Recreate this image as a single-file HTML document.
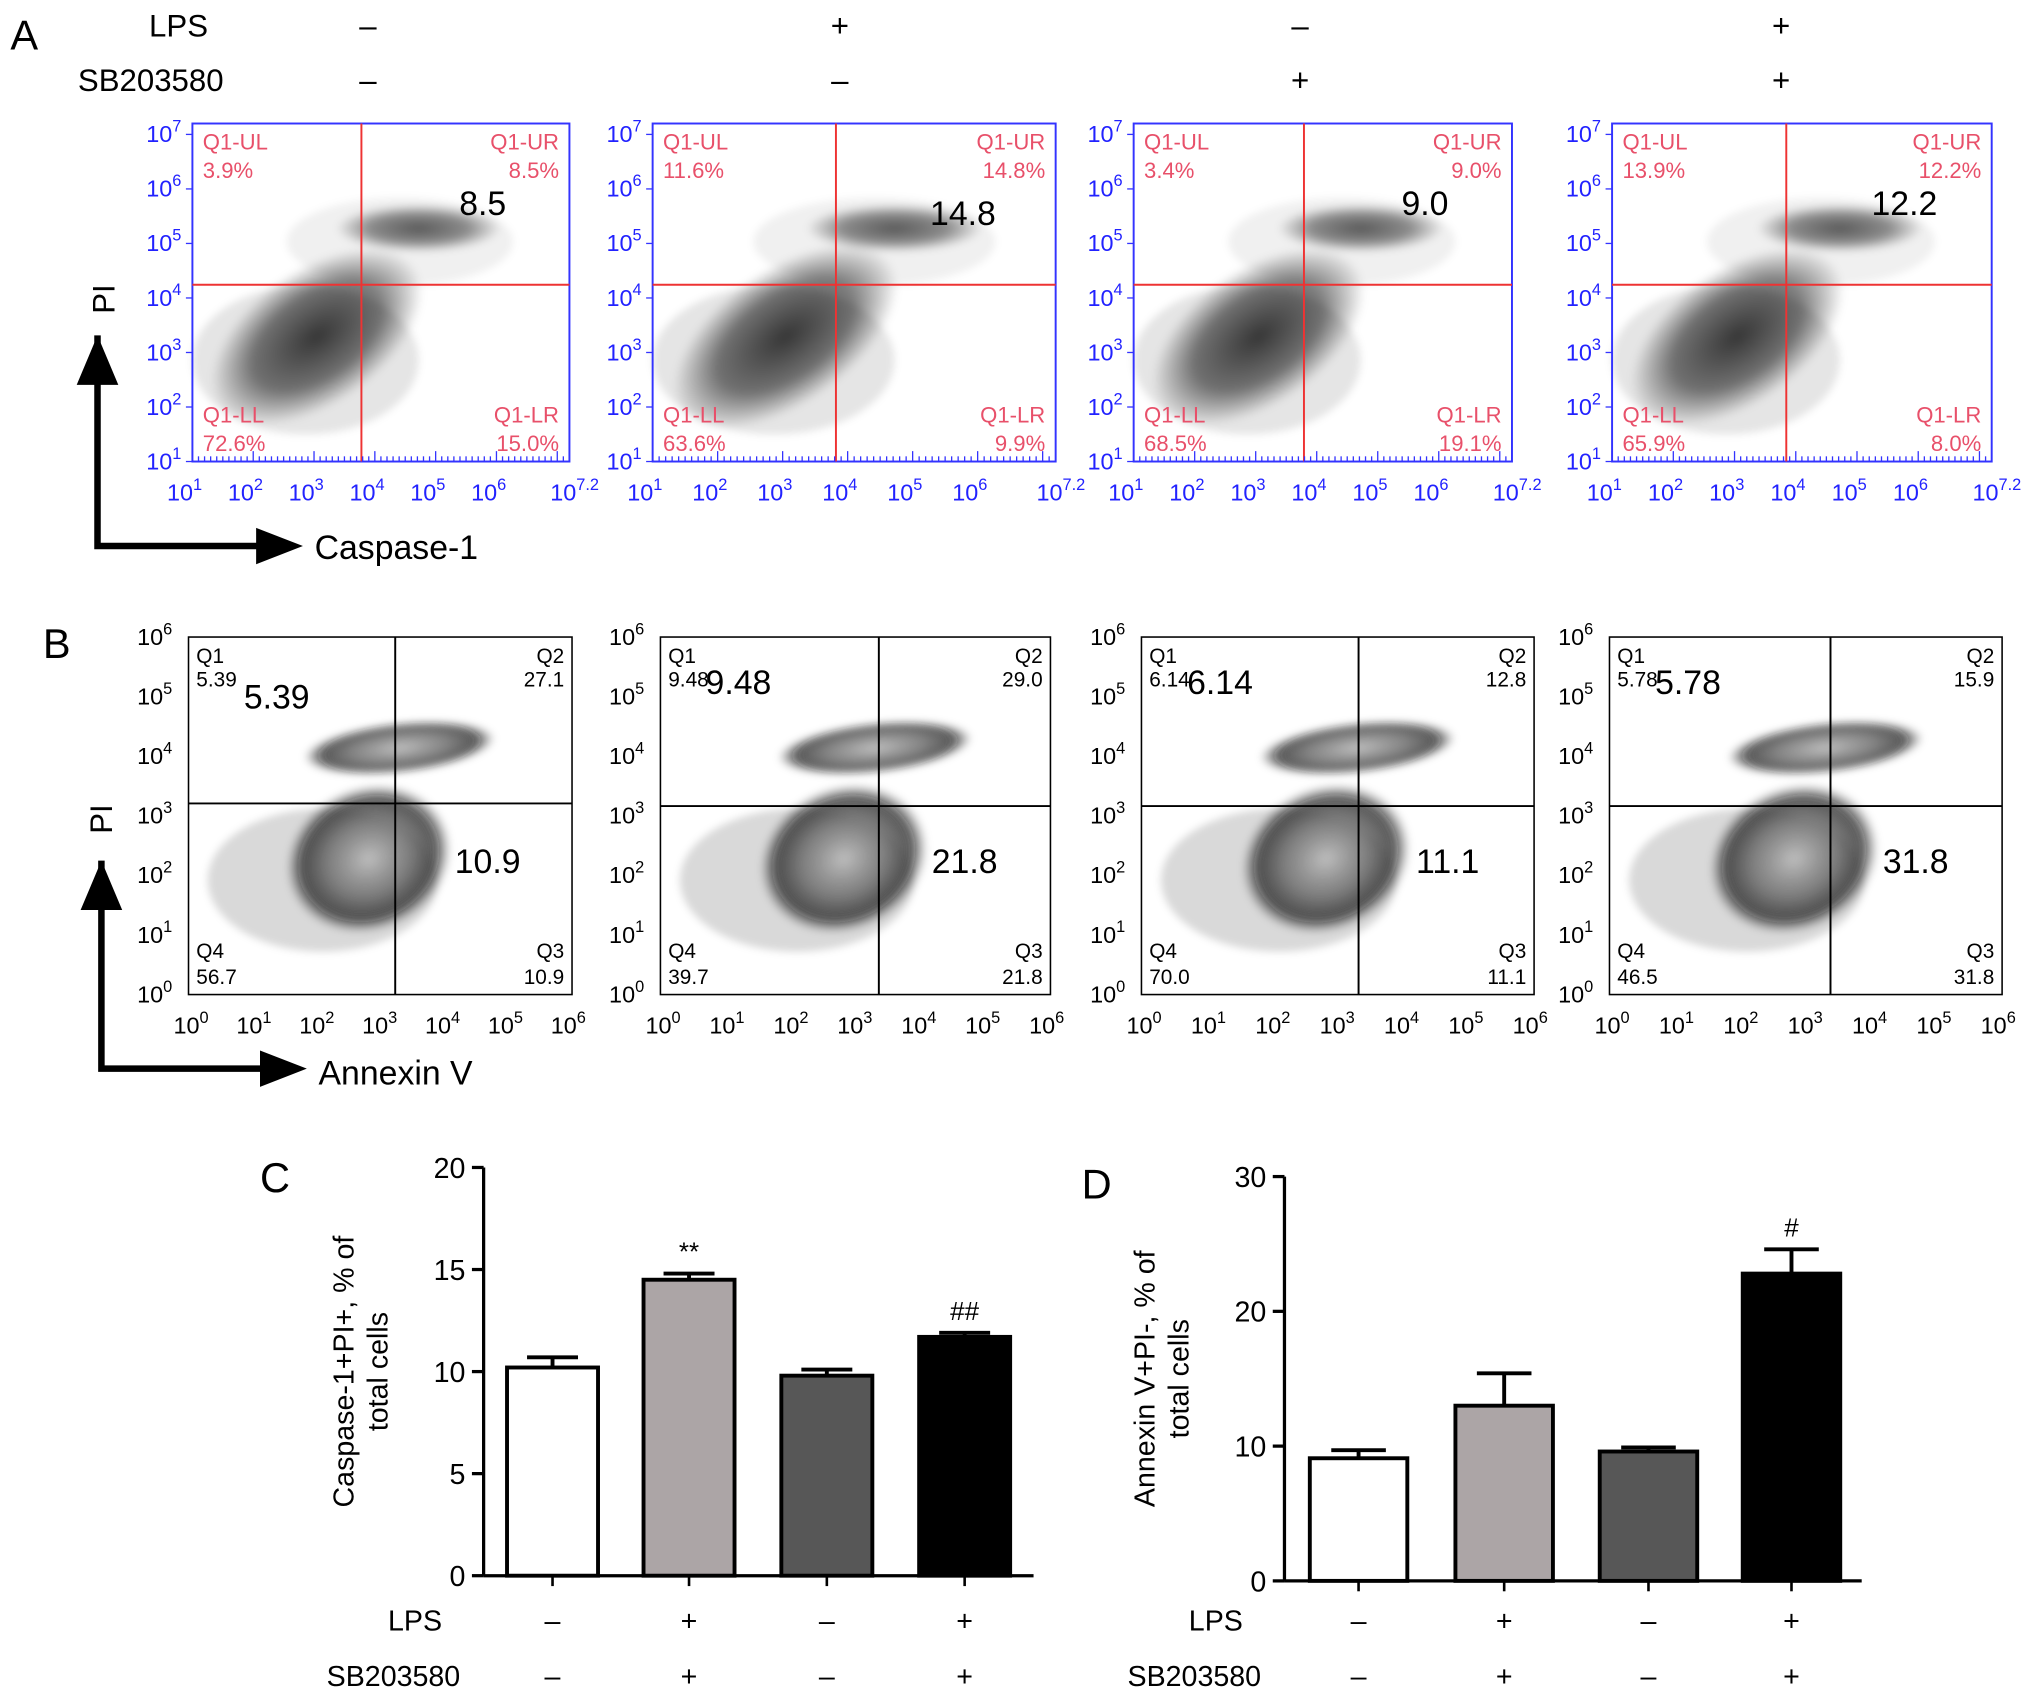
<!DOCTYPE html>
<html><head><meta charset="utf-8">
<style>
html,body{margin:0;padding:0;background:#fff;}
svg{display:block;font-family:"Liberation Sans",sans-serif;}
</style></head>
<body>
<svg id="fig" width="2032" height="1694" viewBox="0 0 1563 1303" preserveAspectRatio="none" xmlns="http://www.w3.org/2000/svg">
<defs>
<radialGradient id="blobK"><stop offset="0" stop-color="#000" stop-opacity="0.9"/><stop offset="0.6" stop-color="#000" stop-opacity="0.6"/><stop offset="1" stop-color="#000" stop-opacity="0"/></radialGradient>
<radialGradient id="blobB"><stop offset="0" stop-color="#bbb" stop-opacity="0.9"/><stop offset="0.5" stop-color="#666" stop-opacity="0.8"/><stop offset="0.8" stop-color="#111" stop-opacity="0.7"/><stop offset="1" stop-color="#000" stop-opacity="0"/></radialGradient>
<filter id="soft"><feGaussianBlur stdDeviation="3"/></filter>
</defs>
<g id="root"></g>
</svg>
<script>
// ---- Bar chart data ----
const groups = ["g1","g2","g3","g4"];
const lpsSigns = ["\u2013","+","\u2013","+"];
const sbSigns = ["\u2013","+","\u2013","+"];
const caspValues = [10.2, 14.5, 9.8, 11.7];
const caspErrors = [0.5, 0.3, 0.3, 0.2];
const caspTicks = [0,5,10,15,20];
const caspMarks = ["","**","","##"];
const annexValues = [9.1, 13.0, 9.6, 22.8];
const annexErrors = [0.6, 2.4, 0.3, 1.8];
const annexTicks = [0,10,20,30];
const annexMarks = ["","","","#"];
// ---- Flow data ----
const aQuad = [["3.9%","8.5%","72.6%","15.0%"],["11.6%","14.8%","63.6%","9.9%"],["3.4%","9.0%","68.5%","19.1%"],["13.9%","12.2%","65.9%","8.0%"]];
const aBig = ["8.5","14.8","9.0","12.2"];
const bQuad = [["5.39","27.1","56.7","10.9"],["9.48","29.0","39.7","21.8"],["6.14","12.8","70.0","11.1"],["5.78","15.9","46.5","31.8"]];
const aLps = ["\u2013","+","\u2013","+"];
const aSb = ["\u2013","\u2013","+","+"];

const NS="http://www.w3.org/2000/svg";
const root=document.getElementById('root');
function mk(tag,attrs,parent,text){const e=document.createElementNS(NS,tag);for(const k in attrs)e.setAttribute(k,attrs[k]);if(text!==undefined)e.textContent=text;(parent||root).appendChild(e);return e;}
function T(x,y,s,size,fill,anchor,parent,name){const e=mk('text',{x:x,y:y,'font-size':size,fill:fill||'#000','text-anchor':anchor||'start'},parent,s);

return e;}
function sup(x,y,base,exp,size,fill,parent){const e=mk('text',{x:x,y:y,'font-size':size,fill:fill,'text-anchor':'middle'},parent);


mk('tspan',{},e,base);mk('tspan',{dy:-size*0.45,'font-size':size*0.7},e,exp);return e;}

T(8,38,"A",32);T(33,506,"B",32);T(200,917,"C",32);T(832,922,"D",32);
T(160,28,"LPS",24,'#000','end');T(172,70,"SB203580",24,'#000','end');
const aCols=[283,646,1000,1370];
aCols.forEach((x,i)=>{T(x,28,aLps[i],24,'#000','middle');T(x,70,aSb[i],24,'#000','middle');});

const aBoxes=[[148,95,438,355,278,219],[502,95,812,355,643,219],[872,95,1163,355,1003,219],[1240,95,1532,355,1374,219]];
aBoxes.forEach((b,i)=>{
  const g=mk('g',{},root);
  const [x0,y0,x1,y1,cx,cy]=b;const w=x1-x0,h=y1-y0;
  const cg=mk('g',{filter:'url(#soft)'},g);
  mk('ellipse',{cx:x0+w*0.33,cy:y0+h*0.63,rx:w*0.32,ry:h*0.2,fill:'url(#blobK)',opacity:0.85,transform:`rotate(-35 ${x0+w*0.33} ${y0+h*0.63})`},cg);
  mk('ellipse',{cx:x0+w*0.3,cy:y0+h*0.7,rx:w*0.3,ry:h*0.22,fill:'#000',opacity:0.1},cg);
  mk('ellipse',{cx:x0+w*0.6,cy:y0+h*0.31,rx:w*0.22,ry:h*0.07,fill:'url(#blobK)',opacity:0.7},cg);
  mk('ellipse',{cx:x0+w*0.55,cy:y0+h*0.35,rx:w*0.3,ry:h*0.13,fill:'#000',opacity:0.06},cg);
  mk('rect',{x:x0,y:y0,width:w,height:h,fill:'none',stroke:'#33f','stroke-width':1.5},g);
  mk('line',{x1:cx,y1:y0,x2:cx,y2:y1,stroke:'#e33','stroke-width':1.5},g);
  mk('line',{x1:x0,y1:cy,x2:x1,y2:cy,stroke:'#e33','stroke-width':1.5},g);
  const q=aQuad[i],red='#e8506a';
  T(x0+8,y0+20,"Q1-UL",17,red,'start',g);T(x0+8,y0+42,q[0],17,red,'start',g);
  T(x1-8,y0+20,"Q1-UR",17,red,'end',g);T(x1-8,y0+42,q[1],17,red,'end',g);
  T(x0+8,y1-30,"Q1-LL",17,red,'start',g);T(x0+8,y1-8,q[2],17,red,'start',g);
  T(x1-8,y1-30,"Q1-LR",17,red,'end',g);T(x1-8,y1-8,q[3],17,red,'end',g);
  T(x0+w*0.77,y0+h*(i==1?0.3:0.27),aBig[i],26,'#000','middle',g,'quadrant-value');
  for(let k=0;k<7;k++){const yy=y1-k*(h/6.2);sup(x0-22,yy+6,"10",String(k+1),18,'#22f',g);mk('line',{x1:x0-5,y1:yy,x2:x0,y2:yy,stroke:'#33f'},g);}
  for(let k=0;k<6;k++){const xx=x0+k*(w/6.2)-6;sup(xx,y1+30,"10",String(k+1),18,'#22f',g);}
  sup(x1+4,y1+30,"10","7.2",18,'#22f',g);
  for(let k=0;k<62;k++){const xx=x0+k*w/62;mk('line',{x1:xx,y1:y1,x2:xx,y2:y1-(k%10==0?8:4),stroke:'#33f'},g);}
});
function arrow(x0,y0,x1,y1,label,lx,ly,vert){
  mk('path',{d:`M${x0},${y0} V${y1} H${x1-30}`,fill:'none',stroke:'#000','stroke-width':5});
  mk('polygon',{points:`${x1-36},${y1-14} ${x1},${y1} ${x1-36},${y1+14}`,fill:'#000'});
  mk('polygon',{points:`${x0-16},${y0+38} ${x0},${y0} ${x0+16},${y0+38}`,fill:'#000'});
  T(lx,ly,label,26);
  const p=T(0,0,"PI",24,'#000','middle');p.setAttribute('transform',`translate(${vert[0]},${vert[1]}) rotate(-90)`);
}
arrow(75,258,233,420,"Caspase-1",242,430,[88,230]);
arrow(78,662,236,822,"Annexin V",245,834,[86,630]);

const bBoxes=[[145,490,440,765,304,618],[508,490,808,765,676,620],[878,490,1180,765,1045,620],[1238,490,1540,765,1408,620]];
bBoxes.forEach((b,i)=>{
  const g=mk('g',{},root);
  const [x0,y0,x1,y1,cx,cy]=b;const w=x1-x0,h=y1-y0;
  const cg=mk('g',{filter:'url(#soft)'},g);
  mk('ellipse',{cx:x0+w*0.35,cy:y0+h*0.68,rx:w*0.3,ry:h*0.2,fill:'#000',opacity:0.15},cg);
  mk('ellipse',{cx:x0+w*0.47,cy:y0+h*0.62,rx:w*0.22,ry:h*0.2,fill:'url(#blobB)',transform:`rotate(-25 ${x0+w*0.47} ${y0+h*0.62})`},cg);
  mk('ellipse',{cx:x0+w*0.55,cy:y0+h*0.31,rx:w*0.25,ry:h*0.07,fill:'url(#blobB)',transform:`rotate(-6 ${x0+w*0.55} ${y0+h*0.31})`},cg);
  mk('rect',{x:x0,y:y0,width:w,height:h,fill:'none',stroke:'#000','stroke-width':1.2},g);
  mk('line',{x1:cx,y1:y0,x2:cx,y2:y1,stroke:'#000','stroke-width':1.5},g);
  mk('line',{x1:x0,y1:cy,x2:x1,y2:cy,stroke:'#000','stroke-width':1.5},g);
  const q=bQuad[i];
  T(x0+6,y0+20,"Q1",16,'#000','start',g);T(x0+6,y0+38,q[0],16,'#000','start',g);
  T(x1-6,y0+20,"Q2",16,'#000','end',g);T(x1-6,y0+38,q[1],16,'#000','end',g);
  T(x0+6,y1-28,"Q4",16,'#000','start',g);T(x0+6,y1-8,q[2],16,'#000','start',g);
  T(x1-6,y1-28,"Q3",16,'#000','end',g);T(x1-6,y1-8,q[3],16,'#000','end',g);
  T(x0+w*(i==0?0.23:0.2),y0+h*(i==0?0.2:0.16),q[0],26,'#000','middle',g,'quadrant-value');
  T(x0+w*0.78,y0+h*0.66,q[3],26,'#000','middle',g,'quadrant-value');
  for(let k=0;k<7;k++){const yy=y1-k*(h/6);sup(x0-26,yy+6,"10",String(k),18,'#000',g);}
  for(let k=0;k<7;k++){const xx=x0+k*(w/6.1)+2;sup(xx,y1+30,"10",String(k),18,'#000',g);}
});

function bars(name,ax,ay0,ay1,axEnd,maxV,ticks,vals,errs,marks,centers,bw,ylab){
  const g=mk('g',{},root);
  const y=v=>ay0-(v/maxV)*(ay0-ay1);
  const fills=['#fff','#aca5a6','#575757','#000'];
  vals.forEach((v,i)=>{
    const cx=centers[i];
    const top=y(v),eTop=y(v+errs[i]);
    mk('line',{x1:cx,y1:top,x2:cx,y2:eTop,stroke:'#000','stroke-width':3},g);
    mk('line',{x1:cx-bw*0.28,y1:eTop,x2:cx+bw*0.28,y2:eTop,stroke:'#000','stroke-width':3},g);
    const r=mk('rect',{x:cx-bw/2,y:top,width:bw,height:ay0-top,fill:fills[i],stroke:'#000','stroke-width':3},g);
    
    
    if(marks[i])T(cx,eTop-10,marks[i],20,'#000','middle',g,'significance-mark');
    T(cx,1254,lpsSigns[i],22,'#000','middle',g,'lps-sign');
    T(cx,1297,sbSigns[i],22,'#000','middle',g,'sb-sign');
  });
  mk('line',{x1:ax,y1:ay1,x2:ax,y2:ay0,stroke:'#000','stroke-width':2.5},g);
  mk('line',{x1:ax,y1:ay0,x2:axEnd,y2:ay0,stroke:'#000','stroke-width':2.5},g);
  ticks.forEach(t=>{mk('line',{x1:ax-9,y1:y(t),x2:ax,y2:y(t),stroke:'#000','stroke-width':2.5},g);T(ax-14,y(t)+8,String(t),22,'#000','end',g,'y-tick');});
  centers.forEach(c=>mk('line',{x1:c,y1:ay0,x2:c,y2:ay0+8,stroke:'#000','stroke-width':2},g));
  T(ax-32,1254,"LPS",22,'#000','end',g,'lps-label');
  T(ax-18,1297,"SB203580",22,'#000','end',g,'sb-label');
  const l1=T(0,0,ylab[0],22,'#000','middle',g,'y-axis-title');l1.setAttribute('transform',`translate(${ax-100},${(ay0+ay1)/2}) rotate(-90)`);
  const l2=T(0,0,ylab[1],22,'#000','middle',g,'y-axis-title');l2.setAttribute('transform',`translate(${ax-74},${(ay0+ay1)/2}) rotate(-90)`);
}
bars('bar-chart-c',372,1212,898,795,20,caspTicks,caspValues,caspErrors,caspMarks,[425,530,636,742],70,["Caspase-1+PI+, % of","total cells"]);
bars('bar-chart-d',988,1216,905,1432,30,annexTicks,annexValues,annexErrors,annexMarks,[1045,1157,1268,1378],75,["Annexin V+PI-, % of","total cells"]);
</script>
</body></html>
